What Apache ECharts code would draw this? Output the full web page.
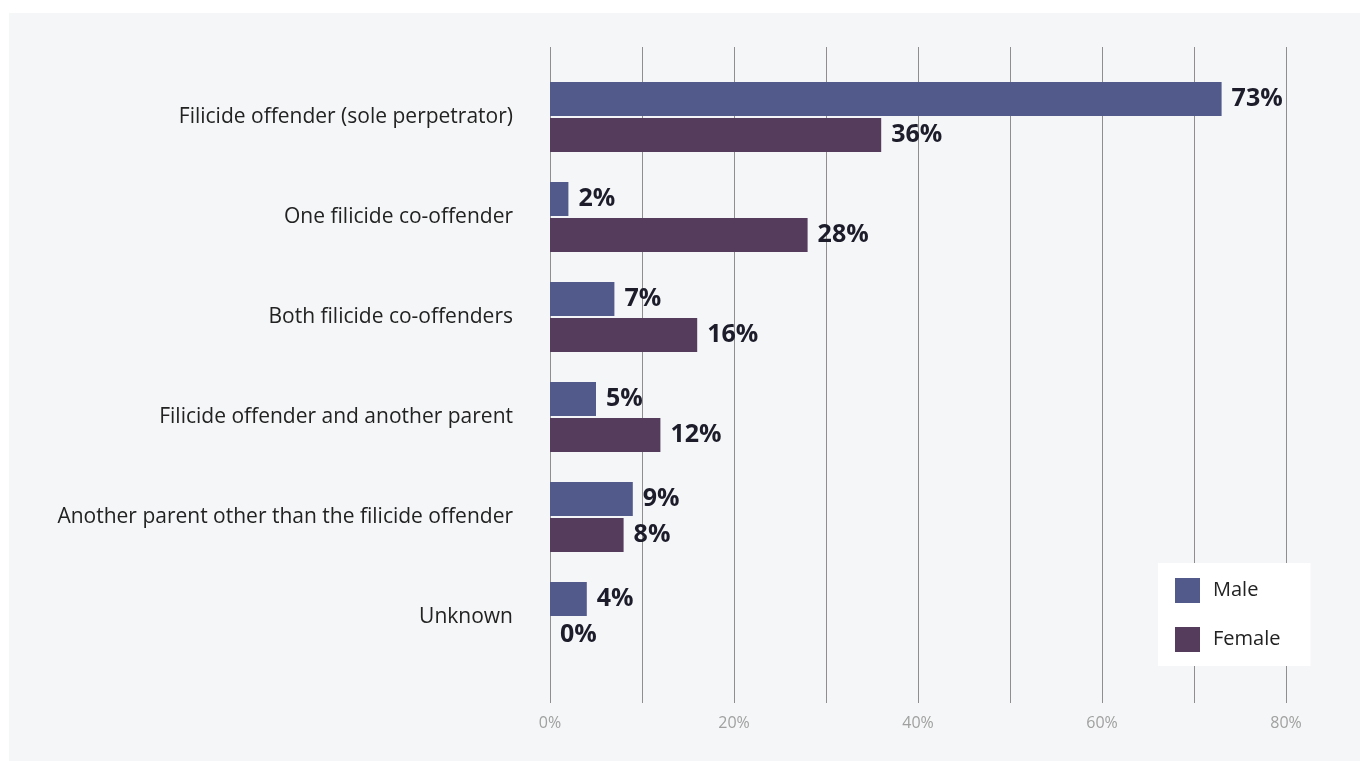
<!DOCTYPE html>
<html>
<head>
<meta charset="utf-8">
<script src="https://cdn.jsdelivr.net/npm/echarts@6/dist/echarts.min.js"></script>
<style>
  html, body { margin: 0; padding: 0; background: #ffffff; }
  #chart { width: 1360px; height: 761px; }
</style>
</head>
<body>
<div id="chart"></div>
<script>
// Who was present / responsible, by sex of filicide offender (%)
const categories = [
  'Filicide offender (sole perpetrator)',
  'One filicide co-offender',
  'Both filicide co-offenders',
  'Filicide offender and another parent',
  'Another parent other than the filicide offender',
  'Unknown'
];
const maleValues = [73, 2, 7, 5, 9, 4];
const femaleValues = [36, 28, 16, 12, 8, 0];
const seriesNames = ['Male', 'Female'];
const tickValues = [0, 20, 40, 60, 80];

const chart = echarts.init(document.getElementById('chart'));

const FONT = '"Open Sans", "Noto Sans", sans-serif';
const labelStyle = {
  show: true,
  position: 'right',
  distance: 10,
  formatter: p => p.value + '%',
  fontFamily: FONT,
  fontWeight: 'bold',
  fontSize: 25,
  color: '#1c1c2a'
};

chart.setOption({
  animation: false,
  graphic: [{
    type: 'rect',
    left: 9, top: 13,
    shape: { width: 1351, height: 748 },
    style: { fill: '#f5f6f8' },
    z: -10
  }],
  grid: [
    // bars
    { left: 550, right: 74, top: 67, bottom: 94, containLabel: false },
    // vertical gridlines and percentage ticks
    { left: 550, right: 74, top: 47, bottom: 58, containLabel: false }
  ],
  legend: {
    orient: 'vertical',
    left: 1158, top: 563,
    backgroundColor: '#ffffff',
    padding: [15, 30, 14, 17],
    itemWidth: 25, itemHeight: 25,
    itemGap: 24,
    icon: 'rect',
    data: seriesNames,
    textStyle: { fontFamily: FONT, fontSize: 20, color: '#222222', padding: [0, 0, 0, 8] }
  },
  xAxis: [
    {
      gridIndex: 0, type: 'value', min: 0, max: 80, interval: 10,
      axisLabel: { show: false }, axisLine: { show: false },
      axisTick: { show: false }, splitLine: { show: false }
    },
    {
      gridIndex: 1, type: 'value', min: 0, max: 80, interval: 10,
      axisLine: { show: false }, axisTick: { show: false },
      splitLine: { show: true, lineStyle: { color: '#8e8e8e', width: 1 } },
      axisLabel: {
        margin: 12,
        fontFamily: FONT, fontSize: 16, color: '#a0a0a0',
        formatter: v => tickValues.includes(v) ? v + '%' : ''
      }
    }
  ],
  yAxis: [
    {
      gridIndex: 0, type: 'category', data: categories, inverse: true,
      axisLine: { show: false }, axisTick: { show: false },
      axisLabel: { margin: 37, fontFamily: FONT, fontSize: 21, color: '#222222' }
    },
    {
      gridIndex: 1, type: 'category', data: [''],
      axisLine: { show: false }, axisTick: { show: false }, axisLabel: { show: false }
    }
  ],
  series: [
    {
      name: seriesNames[0], type: 'bar', xAxisIndex: 0, yAxisIndex: 0,
      data: maleValues, barWidth: 34, barGap: '6%',
      itemStyle: { color: '#525a8c' },
      label: labelStyle, z: 5
    },
    {
      name: seriesNames[1], type: 'bar', xAxisIndex: 0, yAxisIndex: 0,
      data: femaleValues, barWidth: 34, barGap: '6%',
      itemStyle: { color: '#553c5c' },
      label: labelStyle, z: 5
    }
  ]
});
</script>
</body>
</html>
